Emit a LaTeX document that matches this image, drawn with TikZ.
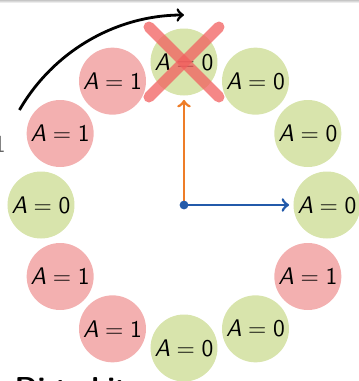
\documentclass[tikz,border=0pt]{standalone}
\usepackage{tikz}
\usepackage{xcolor}
\usetikzlibrary{arrows,positioning,calc}

\definecolor{ringgreen}{RGB}{216,228,172}
\definecolor{ringred}{RGB}{243,176,176}
\definecolor{handorange}{RGB}{238,125,40}
\definecolor{handblue}{RGB}{35,90,170}
\definecolor{crossred}{RGB}{242,95,95}

\newcommand{\bitval}[1]{$\textsf{\itshape A}=\textsf{#1}$}

\begin{document}
\begin{tikzpicture}[
      slot/.style={circle, minimum size=33.5pt, inner sep=0pt, font=\large},
      clean/.style={slot, fill=ringgreen},
      dirty/.style={slot, fill=ringred},
      hand/.style={->, line width=1.4pt, shorten >=2pt},
      cross/.style={draw=crossred, line width=5.5pt, line cap=round, opacity=0.75}
    ]

    % ============ FRAME ============
    \clip (-92pt,-88pt) rectangle (87.5pt,102.5pt);
    \shade[top color=gray!45, bottom color=white] (-92pt,101pt) rectangle (87.5pt,102.5pt);

    % ============ RING OF PAGES ============
    \node[clean] (n0) at (90:71.5pt) {\bitval{0}};
    \node[clean] (n1) at (60:71.5pt) {\bitval{0}};
    \node[clean] (n2) at (30:71.5pt) {\bitval{0}};
    \node[clean] (n3) at (0:71.5pt) {\bitval{0}};
    \node[dirty] (n4) at (-30:71.5pt) {\bitval{1}};
    \node[clean] (n5) at (-60:71.5pt) {\bitval{0}};
    \node[clean] (n6) at (-90:71.5pt) {\bitval{0}};
    \node[dirty] (n7) at (-120:71.5pt) {\bitval{1}};
    \node[dirty] (n8) at (-150:71.5pt) {\bitval{1}};
    \node[clean] (n9) at (180:71.5pt) {\bitval{0}};
    \node[dirty] (n10) at (150:71.5pt) {\bitval{1}};
    \node[dirty] (n11) at (120:71.5pt) {\bitval{1}};

    % ============ HANDS ============
    \coordinate (hub) at (0,0);
    \draw[hand, handorange] (hub) -- (n0);
    \draw[hand, handblue] (hub) -- (n3);
    \fill[handblue] (hub) circle (2.2pt);

    % Sweep of the clock hand
    \coordinate (sweep) at (150:95pt);
    \draw[->, line width=1.4pt] (sweep) arc[start angle=150, end angle=90, radius=95pt];

    % Victim page crossed out
    \draw[cross] ($(n0)+(-17.5pt,17.5pt)$) -- ($(n0)+(17.5pt,-17.5pt)$);
    \draw[cross] ($(n0)+(-17.5pt,-17.5pt)$) -- ($(n0)+(17.5pt,17.5pt)$);

    % ============ CUT-OFF TEXT ============
    \node[anchor=base east, inner sep=0pt, text=gray!80!black, font=\large\sffamily] (side) at (-89pt,26.5pt) {1};
    \node[anchor=base west, inner sep=0pt, font=\Large\sffamily\bfseries] (caption) at (-97.4pt,-96.3pt) {e Dirty bit};

  \end{tikzpicture}
\end{document}
